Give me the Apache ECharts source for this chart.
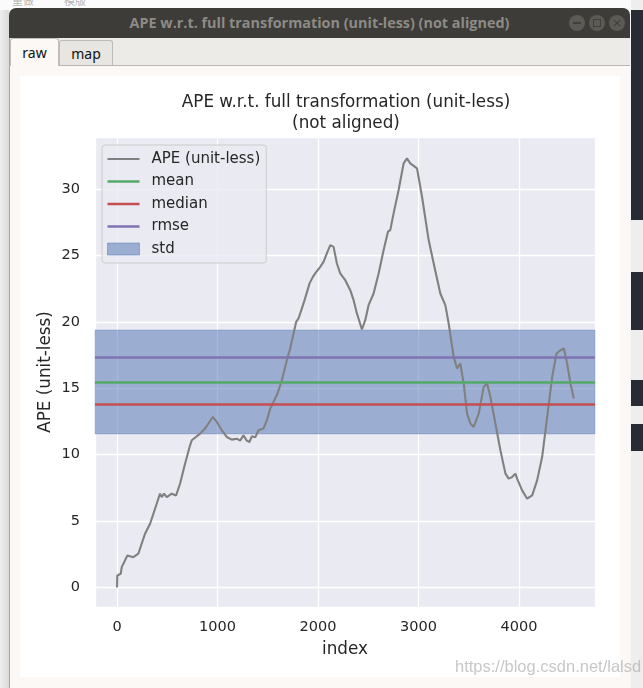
<!DOCTYPE html>
<html>
<head>
<meta charset="utf-8">
<script src="https://cdn.jsdelivr.net/npm/echarts@6/dist/echarts.min.js"></script>
<style>
  html, body { margin:0; padding:0; }
  body { width:643px; height:688px; position:relative; overflow:hidden; background:#f6f6f6; font-family:"Noto Sans", "DejaVu Sans", sans-serif; }
  .abs { position:absolute; }
  #topstrip { left:0; top:0; width:643px; height:10px; background:#fbfbfb; }
  #topstrip span { position:absolute; top:-8px; font-size:11px; color:#b5b5b5; font-family:"Noto Sans CJK SC", sans-serif; }
  #leftstrip { left:0; top:10px; width:9px; height:678px; background:linear-gradient(to right,#efefef,#dadada); }
  #rightstrip { left:631px; top:0; width:12px; height:688px; background:#eeeeee; }
  .dk { position:absolute; left:0; width:12px; background:#272b34; }
  #titlebar { left:9px; top:8px; width:621px; height:30px; background:#3d3c38; border-radius:7px 7px 0 0; }
  #wtitle { left:9px; top:8px; width:621px; height:30px; line-height:30px; text-align:center; color:#8d8b85; font-weight:bold; font-size:14.4px; font-family:"Open Sans", "Noto Sans", sans-serif; }
  .btn { width:16px; height:16px; border-radius:50%; background:#5b5a55; top:15px; }
  #panel { left:9px; top:38px; width:621px; height:650px; background:#edebe8; border-left:1px solid #a9a7a3; box-sizing:border-box; }
  #page { left:10px; top:65px; width:620px; height:623px; background:#fbf8f5; border-top:1px solid #b9b6b2; box-sizing:border-box; }
  #tabraw { left:10px; top:38px; width:49px; height:28px; background:#fbf8f5; border:1px solid #c3c0bc; border-bottom:none; border-radius:3px 3px 0 0; box-sizing:border-box; text-align:center; font-size:14px; line-height:28px; color:#111; }
  #tabmap { left:59px; top:40px; width:54px; height:25px; background:#e8e6e2; border:1px solid #bebbb7; border-bottom:none; border-radius:3px 3px 0 0; box-sizing:border-box; text-align:center; font-size:14px; line-height:25px; color:#111; }
  #fig { left:20px; top:76px; width:600px; height:601px; background:#ffffff; }
  #wm { left:455px; top:657px; font-family:"Liberation Sans", Arial, sans-serif; font-size:16.5px; color:rgba(175,175,175,0.7); white-space:nowrap; }
</style>
</head>
<body>
<div id="topstrip" class="abs"><span style="left:12px">重做</span><span style="left:64px">模版</span></div>
<div id="leftstrip" class="abs"></div>
<div id="rightstrip" class="abs">
  <div class="dk" style="top:10px;height:210px"></div>
  <div class="dk" style="top:272px;height:58px"></div>
  <div class="dk" style="top:380px;height:26px"></div>
  <div class="dk" style="top:424px;height:27px"></div>
</div>
<div id="titlebar" class="abs"></div>
<div id="wtitle" class="abs">APE w.r.t. full transformation (unit-less) (not aligned)</div>
<div class="abs btn" style="left:569px"><div style="position:absolute;left:4px;top:7px;width:8px;height:2px;background:#403f3b"></div></div>
<div class="abs btn" style="left:589px"><div style="position:absolute;left:4px;top:4px;width:6px;height:6px;border:1.5px solid #403f3b"></div></div>
<div class="abs btn" style="left:609px"><div style="position:absolute;left:0;top:0;width:16px;height:16px;line-height:16px;text-align:center;color:#403f3b;font-size:13px;font-family:'DejaVu Sans'">×</div></div>
<div id="panel" class="abs"></div>
<div id="page" class="abs"></div>
<div id="tabmap" class="abs">map</div>
<div id="tabraw" class="abs">raw</div>
<div id="fig" class="abs"></div>
<div id="wm" class="abs">https://blog.csdn.net/lalsd</div>

<script>
// ---- data ----
const titleText = "APE w.r.t. full transformation (unit-less)\n(not aligned)";
const xAxisName = "index";
const yAxisName = "APE (unit-less)";
const legendNames = ["APE (unit-less)", "mean", "median", "rmse", "std"];

const apeIndex = [0, 3, 37, 47, 103, 163, 212, 279, 329, 362, 395, 428, 445, 468, 495, 545, 588, 627, 677, 727, 744, 760, 827, 876, 953, 993, 1043, 1092, 1142, 1192, 1225, 1258, 1291, 1318, 1341, 1375, 1408, 1457, 1491, 1524, 1557, 1597, 1640, 1690, 1723, 1756, 1783, 1806, 1856, 1916, 1949, 1972, 2022, 2055, 2088, 2122, 2155, 2188, 2221, 2271, 2321, 2354, 2387, 2437, 2470, 2503, 2553, 2603, 2653, 2696, 2719, 2752, 2802, 2852, 2885, 2918, 2985, 3035, 3101, 3151, 3217, 3267, 3300, 3350, 3384, 3416, 3450, 3483, 3516, 3549, 3599, 3649, 3682, 3715, 3765, 3815, 3865, 3897, 3931, 3964, 3981, 4031, 4081, 4131, 4180, 4230, 4280, 4330, 4373, 4412, 4446, 4479, 4512, 4545];
const apeValue = [0.0, 0.9, 1.03, 1.53, 2.41, 2.28, 2.54, 4.05, 4.8, 5.55, 6.3, 7.06, 6.8, 7.06, 6.8, 7.06, 6.93, 7.81, 9.32, 10.7, 11.08, 10.95, 11.58, 11.96, 12.83, 12.46, 11.83, 11.33, 11.13, 11.2, 11.05, 11.45, 11.05, 10.95, 11.38, 11.3, 11.83, 11.96, 12.58, 13.46, 13.96, 14.6, 15.6, 17.1, 17.99, 19.1, 20.0, 20.25, 21.38, 22.89, 23.38, 23.64, 24.14, 24.51, 25.15, 25.77, 25.64, 24.39, 23.64, 23.13, 22.38, 21.63, 20.63, 19.42, 20.12, 21.25, 22.13, 23.64, 25.4, 26.78, 26.9, 28.16, 29.92, 31.93, 32.3, 31.93, 31.55, 29.41, 26.15, 24.39, 22.13, 21.25, 19.87, 17.35, 16.48, 16.86, 15.35, 13.09, 12.34, 12.08, 13.09, 15.1, 15.35, 14.34, 12.34, 10.32, 8.57, 8.19, 8.31, 8.57, 8.19, 7.31, 6.68, 6.93, 8.06, 9.82, 12.83, 15.85, 17.61, 17.86, 17.99, 16.86, 15.35, 14.22];

const statMean = 15.47;
const statMedian = 13.79;
const statRmse = 17.33;
const statStd = 3.91;

const xMin = -219, xMax = 4756;
const yMin = -1.47, yMax = 33.91;

// ---- chart ----
const chart = echarts.init(document.getElementById('fig'), null, {renderer: 'canvas'});
const fontFam = "DejaVu Sans";
const txt = '#262626';

const apeData = apeIndex.map((x, i) => [x, apeValue[i]]);
const lineIcon = 'path://M0,0 M32,12 M0,4.9 L32,4.9 L32,7.1 L0,7.1 Z';
const thickIcon = 'path://M0,0 M32,12 M0,4.7 L32,4.7 L32,7.3 L0,7.3 Z';

function statLine(name, val, color) {
  return {
    name: name, type: 'line', data: [], symbol: 'none', z: 4,
    lineStyle: {color: color, width: 2.7}, itemStyle: {color: color},
    markLine: {silent: true, symbol: 'none', label: {show: false},
      lineStyle: {color: color, width: 2.7, type: 'solid'},
      data: [{yAxis: val}], animation: false}
  };
}

const option = {
  animation: false,
  backgroundColor: '#ffffff',
  textStyle: {fontFamily: fontFam},
  title: {
    text: titleText, left: 321, top: 11, textAlign: 'center',
    textStyle: {fontFamily: fontFam, fontSize: 16.8, fontWeight: 'normal', color: txt, lineHeight: 21}
  },
  grid: {left: 75, top: 61, width: 500, height: 470, containLabel: false, show: true, backgroundColor: '#eaeaf2', borderWidth: 0},
  legend: {
    orient: 'vertical', left: 82, top: 69,
    data: [
      {name: legendNames[0], icon: lineIcon, itemStyle: {color: '#808080'}},
      {name: legendNames[1], icon: thickIcon, itemStyle: {color: '#55a868'}},
      {name: legendNames[2], icon: thickIcon, itemStyle: {color: '#c44e52'}},
      {name: legendNames[3], icon: thickIcon, itemStyle: {color: '#8172b2'}},
      {name: legendNames[4], icon: 'rect', itemStyle: {color: 'rgba(76,114,176,0.5)', borderColor: 'rgba(76,114,176,0.45)', borderWidth: 1}}
    ],
    itemWidth: 32, itemHeight: 12, itemGap: 4.5,
    padding: [5, 6, 5, 5],
    backgroundColor: 'rgba(234,234,242,0.8)', borderColor: '#cccccc', borderWidth: 1, borderRadius: 3,
    textStyle: {fontFamily: fontFam, fontSize: 15, color: txt, lineHeight: 18, padding: [0, 0, 0, 7]},
    selectedMode: false
  },
  xAxis: {
    type: 'value', min: xMin, max: xMax, splitNumber: 5,
    name: xAxisName, nameLocation: 'middle', nameGap: 34,
    nameTextStyle: {fontFamily: fontFam, fontSize: 16.8, color: txt},
    axisLine: {show: false}, axisTick: {show: false},
    axisLabel: {fontFamily: fontFam, fontSize: 14.5, color: txt, margin: 13, showMinLabel: false, showMaxLabel: false,
      formatter: v => String(Math.round(v))},
    splitLine: {show: true, lineStyle: {color: '#ffffff', width: 1.3}}
  },
  yAxis: {
    type: 'value', min: yMin, max: yMax, splitNumber: 7,
    name: yAxisName, nameLocation: 'middle', nameGap: 41, nameMoveOverlap: false,
    nameTextStyle: {fontFamily: fontFam, fontSize: 16.8, color: txt},
    axisLine: {show: false}, axisTick: {show: false},
    axisLabel: {fontFamily: fontFam, fontSize: 14.5, color: txt, margin: 15, showMinLabel: false, showMaxLabel: false,
      formatter: v => String(Math.round(v))},
    splitLine: {show: true, lineStyle: {color: '#ffffff', width: 1.3}}
  },
  series: [
    {
      name: legendNames[0], type: 'line', data: apeData, symbol: 'none', z: 3,
      lineStyle: {color: '#808080', width: 2.1}, itemStyle: {color: '#808080'}
    },
    statLine(legendNames[1], statMean, '#55a868'),
    statLine(legendNames[2], statMedian, '#c44e52'),
    statLine(legendNames[3], statRmse, '#8172b2'),
    {
      name: legendNames[4], type: 'line', data: [], symbol: 'none', z: 1,
      itemStyle: {color: 'rgba(76,114,176,0.5)'}, lineStyle: {color: 'rgba(76,114,176,0.5)'},
      markArea: {silent: true, itemStyle: {color: 'rgba(76,114,176,0.5)', borderColor: 'rgba(76,114,176,0.3)', borderWidth: 1},
        label: {show: false},
        data: [[{yAxis: statMean - statStd}, {yAxis: statMean + statStd}]]}
    }
  ]
};
chart.setOption(option);
</script>
</body>
</html>
